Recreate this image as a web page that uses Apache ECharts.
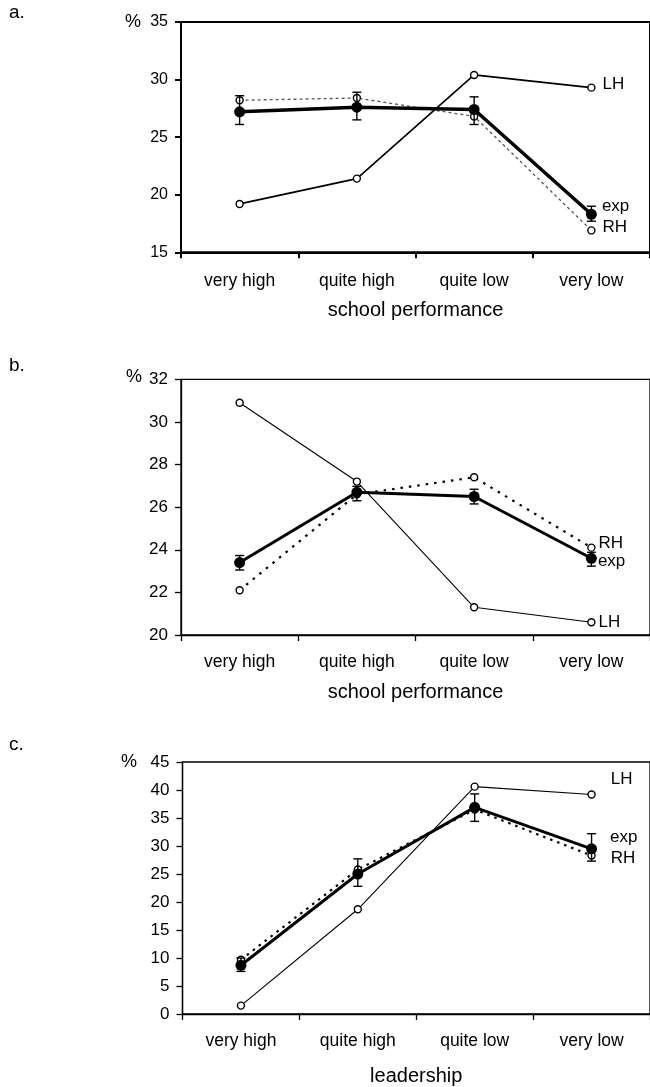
<!DOCTYPE html>
<html><head><meta charset="utf-8">
<script src="https://cdn.jsdelivr.net/npm/echarts@6/dist/echarts.min.js"></script>
<style>html,body{margin:0;padding:0;background:#fff}#c{width:650px;height:1087px}</style>
</head><body><div id="c"></div>
<script>
// ---------- data ----------
const categories = ['very high', 'quite high', 'quite low', 'very low'];

// panel a (school performance)
const aLH      = [19.2, 21.4, 30.4, 29.3];
const aRH      = [28.2, 28.4, 26.8, 16.9];
const aExp     = [27.2, 27.6, 27.4, 18.3];
const aExpLow  = [26.1, 26.5, 26.1, 17.7];
const aExpHigh = [28.6, 28.9, 28.5, 19.0];
const aTicks   = [15, 20, 25, 30, 35];

// panel b (school performance)
const bLH      = [30.9, 27.2, 21.3, 20.6];
const bRH      = [22.1, 26.6, 27.4, 24.1];
const bExp     = [23.4, 26.7, 26.5, 23.6];
const bExpLow  = [23.05, 26.3, 26.15, 23.23];
const bExpHigh = [23.73, 26.98, 26.84, 23.88];
const bTicks   = [20, 22, 24, 26, 28, 30, 32];

// panel c (leadership)
const cLH      = [1.5, 18.7, 40.6, 39.2];
const cRH      = [9.7, 25.8, 36.5, 28.3];
const cExp     = [8.7, 25.0, 36.9, 29.5];
const cExpLow  = [7.6, 22.8, 34.4, 27.3];
const cExpHigh = [10.0, 27.7, 39.3, 32.2];
const cTicks   = [0, 5, 10, 15, 20, 25, 30, 35, 40, 45];

const panelLetters = ['a.', 'b.', 'c.'];
const axisNames = ['school performance', 'school performance', 'leadership'];
const seriesNames = ['LH', 'RH', 'exp'];

// ---------- styles / layout ----------
const FONT = "'Liberation Sans', Arial, sans-serif";
const panels = [
  { lh: aLH, rh: aRH, exp: aExp, lo: aExpLow, hi: aExpHigh, ticks: aTicks,
    grid: { left: 181, top: 22, width: 470, height: 230.3 },
    axisW: 2, lhW: 1.7, expW: 3.5, rhW: 1.3, rhColor: '#555', rhDash: [3, 3],
    tickFont: 16, nameGap: 48, labelMargin: 20,
    lab: { LH: [7, -3], RH: [7, -3.5], exp: [5, -8] } },
  { lh: bLH, rh: bRH, exp: bExp, lo: bExpLow, hi: bExpHigh, ticks: bTicks,
    grid: { left: 181, top: 379.3, width: 475, height: 255.7 },
    axisW: 1.3, lhW: 1.1, expW: 3, rhW: 2.2, rhColor: '#000', rhDash: [2.5, 6],
    tickFont: 17, nameGap: 47, labelMargin: 18,
    lab: { LH: [3, 0], RH: [3, -4.5], exp: [1, 3] } },
  { lh: cLH, rh: cRH, exp: cExp, lo: cExpLow, hi: cExpHigh, ticks: cTicks,
    grid: { left: 182.5, top: 762, width: 483, height: 252 },
    axisW: 1.3, lhW: 1.1, expW: 3, rhW: 2.2, rhColor: '#000', rhDash: [2.5, 5],
    tickFont: 17, nameGap: 52, labelMargin: 18,
    lab: { LH: [15, -15], RH: [15, 2.5], exp: [13, -11] } }
];
const letterPos = [[9, 13.5], [9, 366.5], [9, 745]];
const percentPos = [[125, 23.5], [126, 378.5], [121, 763]];

const option = {
  animation: false,
  backgroundColor: '#fff',
  textStyle: { fontFamily: FONT, color: '#000' },
  grid: [], xAxis: [], yAxis: [], series: [],
  graphic: []
};

function lastLabel(name, off) {
  return { show: true, position: 'right', distance: off[0], offset: [0, off[1]],
    formatter: name, color: '#000', fontSize: 17, fontFamily: FONT };
}
function withEndLabel(arr, name, off) {
  return arr.map((v, i) => i === arr.length - 1 ? { value: v, label: lastLabel(name, off) } : v);
}

panels.forEach((p, k) => {
  option.grid.push(Object.assign({ show: true, borderColor: '#000', borderWidth: p.axisW,
    backgroundColor: 'transparent', containLabel: false }, p.grid));
  option.xAxis.push({
    type: 'category', gridIndex: k, data: categories, boundaryGap: true,
    axisLine: { lineStyle: { color: '#000', width: p.axisW } },
    axisTick: { show: true, length: 6, inside: false, lineStyle: { color: '#000', width: p.axisW } },
    axisLabel: { color: '#000', fontSize: 17.5, fontFamily: FONT, margin: p.labelMargin, interval: 0 },
    name: axisNames[k], nameLocation: 'middle', nameGap: p.nameGap,
    nameTextStyle: { color: '#000', fontSize: 20, fontFamily: FONT },
    splitLine: { show: false }
  });
  const t = p.ticks;
  option.yAxis.push({
    type: 'value', gridIndex: k, min: t[0], max: t[t.length - 1], interval: t[1] - t[0],
    axisLine: { show: true, lineStyle: { color: '#000', width: p.axisW } },
    axisTick: { show: true, length: 6, inside: false, lineStyle: { color: '#000', width: p.axisW } },
    axisLabel: { color: '#000', fontSize: p.tickFont, fontFamily: FONT, margin: 13 },
    splitLine: { show: false }
  });
  // LH
  option.series.push({
    type: 'line', name: 'LH', xAxisIndex: k, yAxisIndex: k,
    data: withEndLabel(p.lh, seriesNames[0], p.lab.LH),
    symbol: 'circle', symbolSize: 7,
    lineStyle: { color: '#000', width: p.lhW },
    itemStyle: { color: '#fff', borderColor: '#000', borderWidth: 1.4 }, z: 3
  });
  // RH
  option.series.push({
    type: 'line', name: 'RH', xAxisIndex: k, yAxisIndex: k,
    data: withEndLabel(p.rh, seriesNames[1], p.lab.RH),
    symbol: 'circle', symbolSize: 7,
    lineStyle: { color: p.rhColor, width: p.rhW, type: p.rhDash },
    itemStyle: { color: '#fff', borderColor: '#000', borderWidth: 1.4 }, z: 2
  });
  // exp
  option.series.push({
    type: 'line', name: 'exp', xAxisIndex: k, yAxisIndex: k,
    data: withEndLabel(p.exp, seriesNames[2], p.lab.exp),
    symbol: 'circle', symbolSize: 11,
    lineStyle: { color: '#000', width: p.expW },
    itemStyle: { color: '#000', borderColor: '#000', borderWidth: 0 }, z: 4
  });
  // error bars
  option.series.push({
    type: 'custom', name: 'exp error', xAxisIndex: k, yAxisIndex: k, z: 5,
    data: p.lo.map((lo, i) => [i, lo, p.hi[i]]),
    encode: { x: 0, y: [1, 2] },
    renderItem: (params, api) => {
      const x = api.value(0);
      const a = api.coord([x, api.value(1)]);
      const b = api.coord([x, api.value(2)]);
      const w = 4.5;
      const style = { stroke: '#000', lineWidth: 1.4 };
      return { type: 'group', children: [
        { type: 'line', shape: { x1: a[0], y1: a[1], x2: b[0], y2: b[1] }, style },
        { type: 'line', shape: { x1: a[0] - w, y1: a[1], x2: a[0] + w, y2: a[1] }, style },
        { type: 'line', shape: { x1: b[0] - w, y1: b[1], x2: b[0] + w, y2: b[1] }, style }
      ] };
    }
  });
  option.graphic.push({
    type: 'text', left: letterPos[k][0], top: letterPos[k][1] - 10,
    style: { text: panelLetters[k], fontSize: 19, fontFamily: FONT, fill: '#000' }
  });
  option.graphic.push({
    type: 'text', left: percentPos[k][0], top: percentPos[k][1] - 10,
    style: { text: '%', fontSize: 18, fontFamily: FONT, fill: '#000' }
  });
});

const chart = echarts.init(document.getElementById('c'), null, { renderer: 'canvas' });
chart.setOption(option);
</script>
</body></html>
